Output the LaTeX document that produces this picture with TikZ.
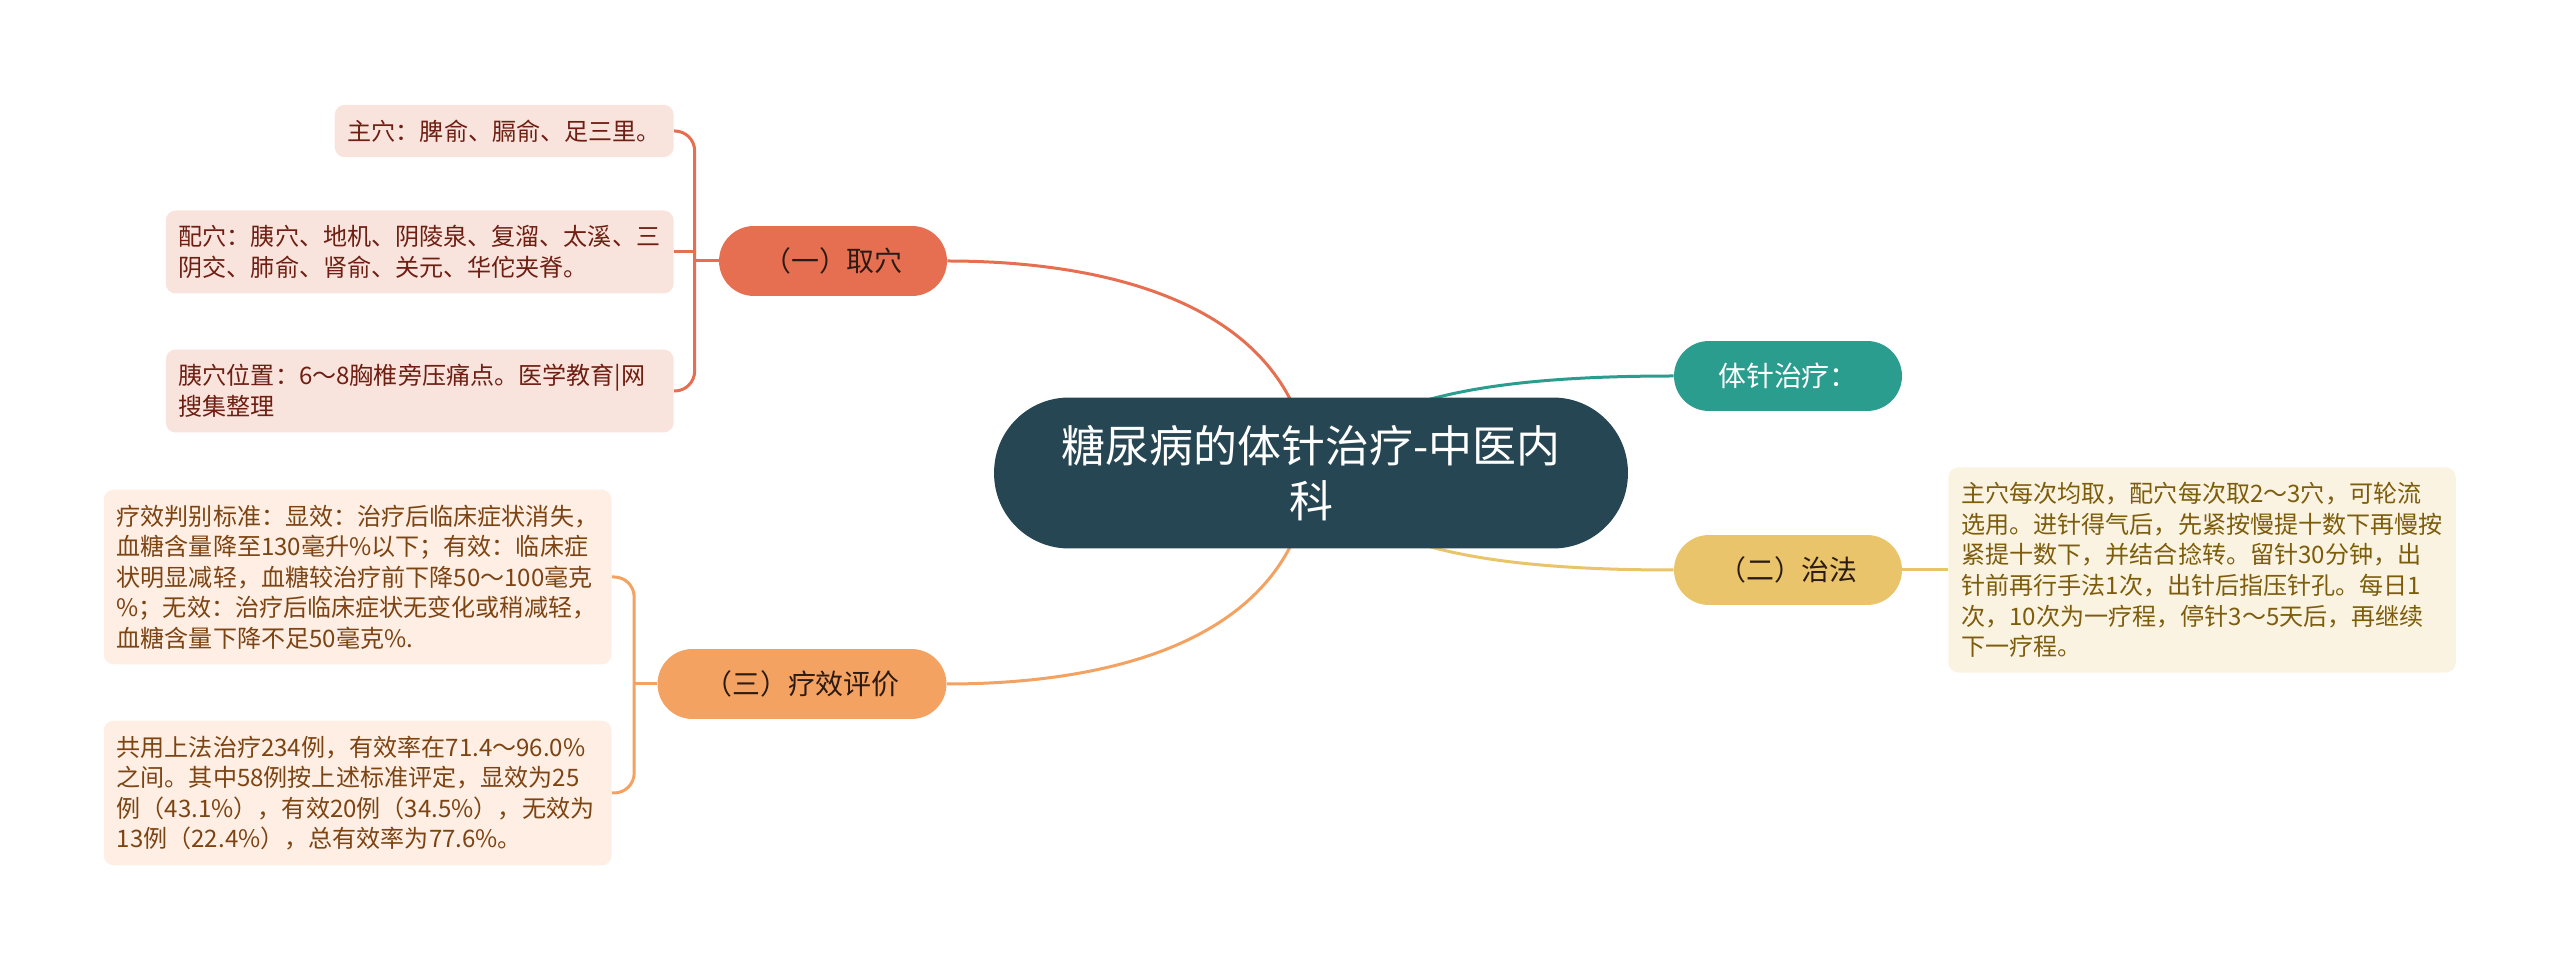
\documentclass[tikz,border=0pt]{standalone}
\usepackage{fontspec}
\setmainfont{Noto Sans CJK SC}
\usepackage{xcolor}
\usepackage{tikz}
\usetikzlibrary{positioning, calc, backgrounds}

\definecolor{rootfill}{HTML}{264653}
\definecolor{tealfill}{HTML}{2A9D8F}
\definecolor{goldfill}{HTML}{E9C46A}
\definecolor{coralfill}{HTML}{E76F51}
\definecolor{sandfill}{HTML}{F4A261}
\definecolor{coralleaf}{HTML}{F9E3DD}
\definecolor{coraltext}{HTML}{6E1F12}
\definecolor{sandleaf}{HTML}{FEEEE3}
\definecolor{sandtext}{HTML}{7D4413}
\definecolor{goldleaf}{HTML}{FAF3E1}
\definecolor{goldtext}{HTML}{7D5D0C}
\definecolor{branchtext}{HTML}{2B1B14}

\tikzset{
  rootnode/.style={
    fill=rootfill, text=white, rounded corners=1.5cm, align=center,
    minimum width=12.68cm, minimum height=3.02cm,
    font=\fontsize{25}{31.3}\selectfont
  },
  branchnode/.style={
    rounded corners=0.7cm, align=center, inner sep=0pt,
    minimum width=4.56cm, minimum height=1.4cm,
    font=\fontsize{15.9}{19}\selectfont
  },
  leafbox/.style={
    rounded corners=0.2cm, align=left, inner xsep=0.26cm, inner ysep=0.3cm,
    font=\fontsize{13.7}{17.4}\selectfont
  },
  leafboxwide/.style={leafbox, text width=9.64cm},
  mapline/.style={line width=0.06cm},
  forkline/.style={line width=0.06cm, rounded corners=0.4cm},
}

\begin{document}
\begin{tikzpicture}[x=0.02cm, y=-0.02cm]
  \useasboundingbox (0,0) rectangle (2560,972);

  % ---- CENTRE ----
  \node[rootnode] (root) at (1311,473) {糖尿病的体针治疗-中医内\\科};

  % ---- RIGHT SIDE ----
  \node[branchnode, fill=tealfill, text=white] (needle) at (1788,376)
    {体针治疗：};
  \node[branchnode, fill=goldfill, text=branchtext] (method) at (1788,570)
    {（二）治法};
  \node[leafbox, fill=goldleaf, text=goldtext, anchor=west] (methodtxt)
    at (1948,570)
    {主穴每次均取，配穴每次取2～3穴，可轮流\\
     选用。进针得气后，先紧按慢提十数下再慢按\\
     紧提十数下，并结合捻转。留针30分钟，出\\
     针前再行手法1次，出针后指压针孔。每日1\\
     次，10次为一疗程，停针3～5天后，再继续\\
     下一疗程。};

  % ---- LEFT SIDE: (一) ----
  \node[branchnode, fill=coralfill, text=branchtext] (points) at (833,261)
    {（一）取穴};
  \node[leafbox, fill=coralleaf, text=coraltext, anchor=east] (mainpt)
    at (674,131) {主穴：脾俞、膈俞、足三里。};
  \node[leafboxwide, fill=coralleaf, text=coraltext, anchor=east] (extrapt)
    at (674,252)
    {配穴：胰穴、地机、阴陵泉、复溜、太溪、三\\
     阴交、肺俞、肾俞、关元、华佗夹脊。};
  \node[leafboxwide, fill=coralleaf, text=coraltext, anchor=east] (yipt)
    at (674,391)
    {胰穴位置：6～8胸椎旁压痛点。医学教育|网\\
     搜集整理};

  % ---- LEFT SIDE: (三) ----
  \node[branchnode, fill=sandfill, text=branchtext, minimum width=5.78cm]
    (effect) at (802,684) {（三）疗效评价};
  \node[leafboxwide, fill=sandleaf, text=sandtext, anchor=east] (criteria)
    at (612,577)
    {疗效判别标准：显效：治疗后临床症状消失，\\
     血糖含量降至130毫升\%以下；有效：临床症\\
     状明显减轻，血糖较治疗前下降50～100毫克\\
     \%；无效：治疗后临床症状无变化或稍减轻，\\
     血糖含量下降不足50毫克\%.};
  \node[leafboxwide, fill=sandleaf, text=sandtext, anchor=east] (result)
    at (612,793)
    {共用上法治疗234例，有效率在71.4～96.0\%\\
     之间。其中58例按上述标准评定，显效为25\\
     例（43.1\%），有效20例（34.5\%），无效为\\
     13例（22.4\%），总有效率为77.6\%。};

  % ---- CONNECTORS ----
  \begin{scope}[on background layer]
    \draw[mapline, coralfill] (root.center)
      .. controls (1295,300) and (1100,261) .. (points.east);
    \draw[mapline, sandfill] (root.center)
      .. controls (1295,646) and (1100,684) .. (effect.east);
    \draw[mapline, tealfill] (root.center)
      .. controls (1360,400) and (1480,376) .. (needle.west);
    \draw[mapline, goldfill] (root.center)
      .. controls (1360,546) and (1480,570) .. (method.west);
  \end{scope}

  \draw[mapline, goldfill] (method.east) -- (methodtxt.west);

  % Forks to leaf boxes
  \coordinate (pointsfork) at ($(points.west)+(-24,0)$);
  \draw[forkline, coralfill] (mainpt.east) -| (pointsfork) |- (yipt.east);
  \draw[mapline, coralfill] (extrapt.east) -- (extrapt.east -| pointsfork);
  \draw[mapline, coralfill] (pointsfork) -- (points.west);

  \coordinate (effectfork) at ($(effect.west)+(-23,0)$);
  \draw[forkline, sandfill] (criteria.east) -| (effectfork) |- (result.east);
  \draw[mapline, sandfill] (effectfork) -- (effect.west);
\end{tikzpicture}
\end{document}
